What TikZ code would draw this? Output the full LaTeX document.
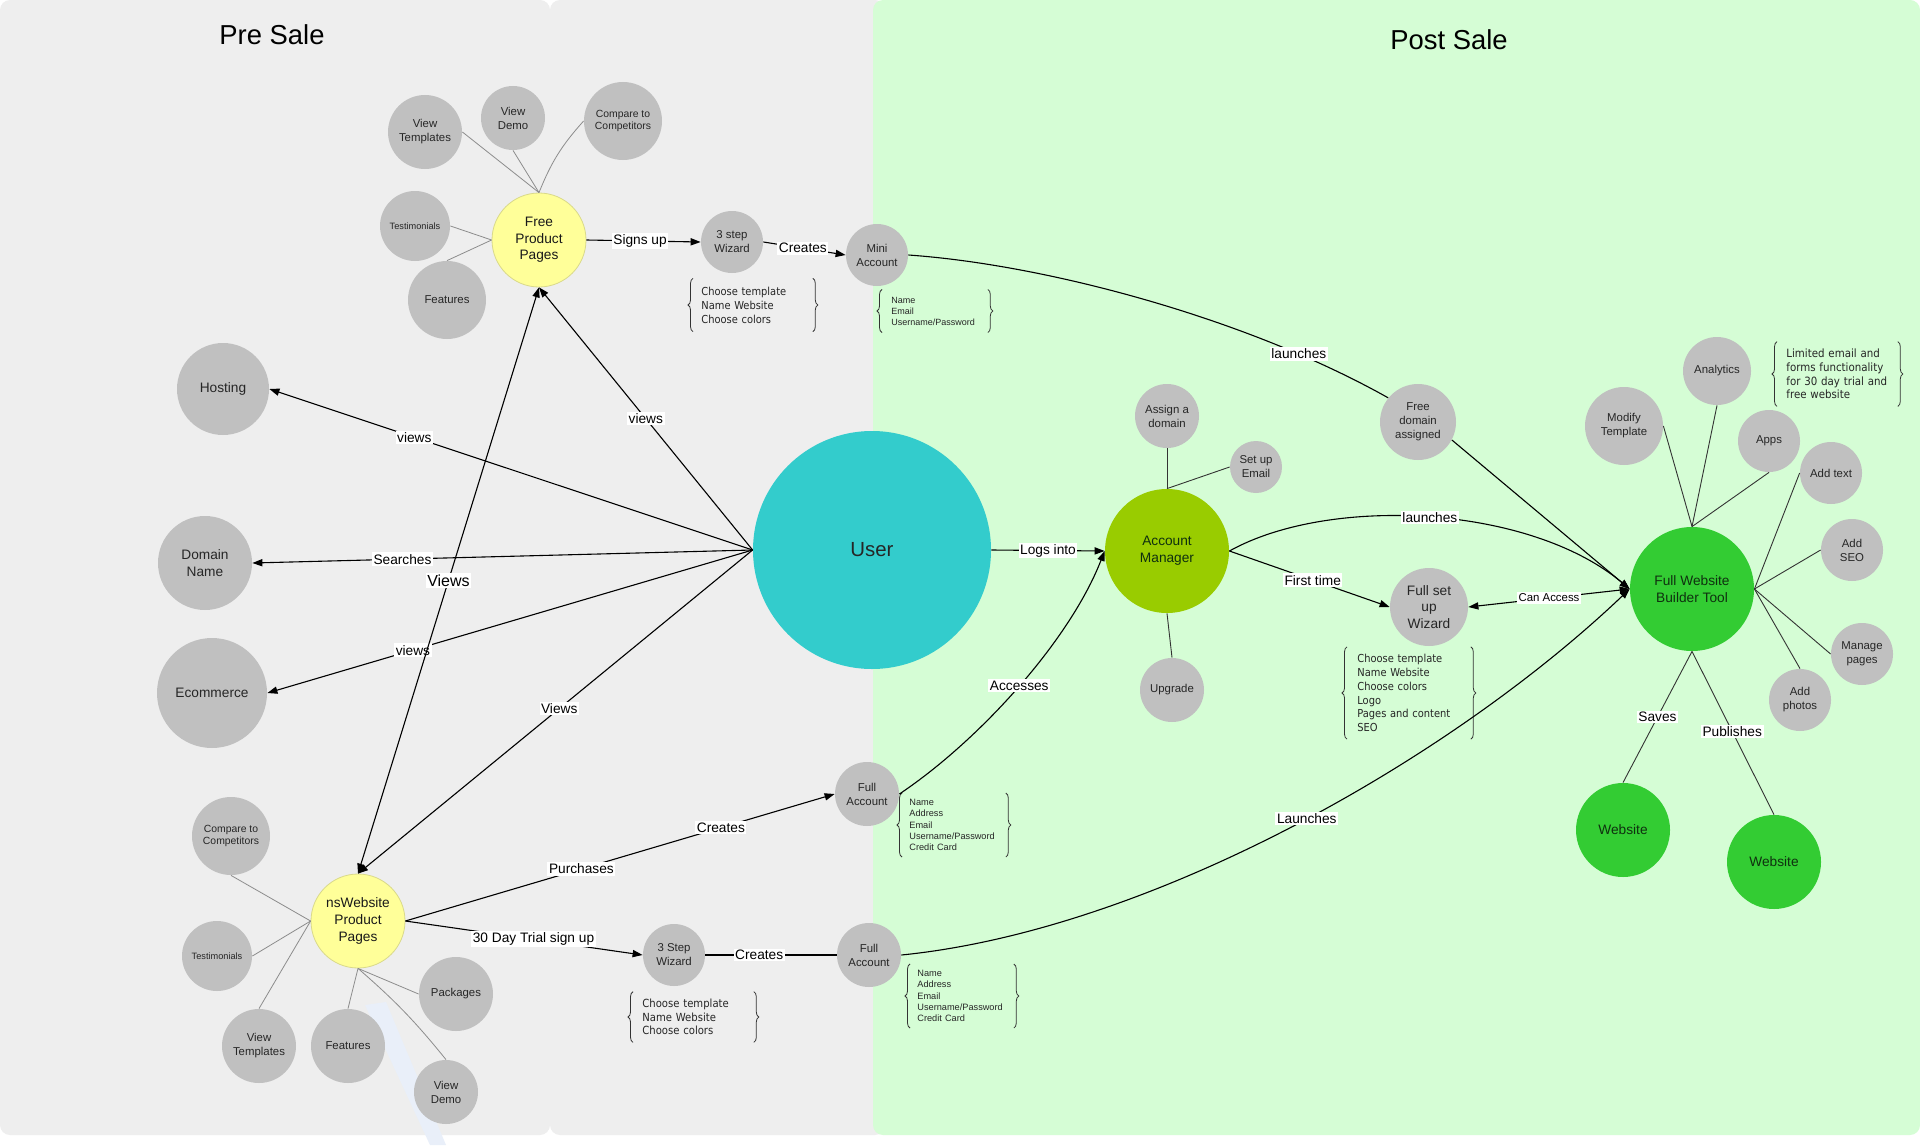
\documentclass[tikz,border=0pt]{standalone}
\usepackage{fontspec}
\setmainfont{Liberation Sans}
\newfontfamily\notefont{DejaVu Sans Condensed}
\usetikzlibrary{arrows.meta, decorations.pathreplacing}

\definecolor{panelgray}{HTML}{EEEEEE}
\definecolor{panelgreen}{HTML}{D5FDD5}
\definecolor{bubble}{HTML}{C0C0C0}
\definecolor{hubyellow}{HTML}{FFFF99}
\definecolor{hubline}{HTML}{D9D98A}
\definecolor{usercyan}{HTML}{33CCCC}
\definecolor{amgreen}{HTML}{99CC00}
\definecolor{webgreen}{HTML}{33CC33}
\definecolor{greentext}{HTML}{0F300F}
\definecolor{streak}{HTML}{E9EFF9}

\tikzset{
  bub/.style={circle, fill=bubble, inner sep=0pt, align=center, text=black!85, font=\fontsize{5.7}{7}\selectfont},
  hub/.style={circle, fill=hubyellow, draw=hubline, line width=0.4pt, inner sep=0pt, align=center, text=black!90, font=\fontsize{6.85}{8.3}\selectfont},
  lime/.style={circle, fill=amgreen, inner sep=0pt, align=center, text=greentext, font=\fontsize{6.85}{8.3}\selectfont},
  leaf/.style={circle, fill=webgreen, inner sep=0pt, align=center, text=greentext, font=\fontsize{6.85}{8.3}\selectfont},
  bigtxt/.style={font=\fontsize{6.85}{8.3}\selectfont},
  tinytxt/.style={font=\fontsize{5.2}{6.2}\selectfont},
  lbl/.style={fill=white, inner sep=0.8pt, text=black, font=\fontsize{6.85}{8.3}\selectfont},
  link/.style={draw=black, line width=0.55pt},
  spoke/.style={draw=black!45, line width=0.4pt},
  darkspoke/.style={draw=black!80, line width=0.45pt},
  note/.style={anchor=west, inner xsep=0pt, inner ysep=3pt, align=left, text=black!85},
  curly/.style={decorate, decoration={brace, amplitude=2.5pt}, draw=black!80, line width=0.4pt}
}

\begin{document}
\begin{tikzpicture}[x=0.5pt, y=-0.5pt, >={Triangle[length=5pt, width=3.6pt]}]
\useasboundingbox (0,0) rectangle (1920,1145);

% panels
\fill[white] (0,0) rectangle (1920,1145);
\fill[panelgray, rounded corners=5pt] (0,0) rectangle (550,1135);
\fill[panelgray, rounded corners=5pt] (550,0) rectangle (885,1135);
\fill[panelgreen, rounded corners=5pt] (873,0) rectangle (1920,1135);
\fill[streak] (365,1005) -- (386,1002) -- (446,1145) -- (430,1145) -- cycle;

\node[font=\fontsize{13.7}{16}\selectfont] (pre) at (272,35) {Pre Sale};
\node[font=\fontsize{13.7}{16}\selectfont] (post) at (1449,40) {Post Sale};

% pre sale
\node[hub, minimum size=47pt] (fpp) at (539,240) {Free\\Product\\Pages};
\node[bub, minimum size=37pt] (vt1) at (425,132) {View\\Templates};
\node[bub, minimum size=32pt] (vd1) at (513,118) {View\\Demo};
\node[bub, tinytxt, minimum size=39pt] (cmp1) at (623,121) {Compare to\\Competitors};
\node[bub, minimum size=35pt, font=\fontsize{4.6}{5.5}\selectfont] (tst1) at (415,226) {Testimonials};
\node[bub, minimum size=39pt] (ft1) at (447,300) {Features};

\node[bub, bigtxt, minimum size=46pt] (host) at (223,389) {Hosting};
\node[bub, bigtxt, minimum size=47pt] (dom) at (205,563) {Domain\\Name};
\node[bub, bigtxt, minimum size=55pt] (ecom) at (212,693) {Ecommerce};

\node[circle, fill=usercyan, inner sep=0pt, minimum size=119pt, text=black!85, font=\fontsize{10.2}{12}\selectfont] (user) at (872,550) {User};

\node[hub, minimum size=47pt] (nsw) at (358,921) {nsWebsite\\Product\\Pages};
\node[bub, tinytxt, minimum size=39pt] (cmp2) at (231,836) {Compare to\\Competitors};
\node[bub, minimum size=35pt, font=\fontsize{4.6}{5.5}\selectfont] (tst2) at (217,956) {Testimonials};
\node[bub, minimum size=37pt] (vt2) at (259,1046) {View\\Templates};
\node[bub, minimum size=37pt] (ft2) at (348,1046) {Features};
\node[bub, minimum size=37pt] (pkg) at (456,994) {Packages};
\node[bub, minimum size=32pt] (vd2) at (446,1092) {View\\Demo};

\node[bub, minimum size=31pt] (wiz) at (732,242) {3 step\\Wizard};
\node[bub, minimum size=31pt] (wiz2) at (674,955) {3 Step\\Wizard};

% post sale
\node[bub, minimum size=31pt] (mini) at (877,255) {Mini\\Account};
\node[bub, minimum size=32pt] (fa1) at (867,794) {Full\\Account};
\node[bub, minimum size=32pt] (fa2) at (869,955) {Full\\Account};

\node[lime, minimum size=62pt] (am) at (1167,551) {Account\\Manager};
\node[bub, minimum size=32pt] (asg) at (1167,416) {Assign a\\domain};
\node[bub, minimum size=26pt] (email) at (1256,467) {Set up\\Email};
\node[bub, minimum size=32pt] (upg) at (1172,690) {Upgrade};
\node[bub, minimum size=38pt] (fdom) at (1418,422) {Free\\domain\\assigned};
\node[bub, bigtxt, minimum size=39pt] (fsw) at (1429,607) {Full set\\up\\Wizard};

\node[leaf, minimum size=62pt] (bld) at (1692,589) {Full Website\\Builder Tool};
\node[bub, minimum size=39pt] (modt) at (1624,426) {Modify\\Template};
\node[bub, minimum size=34pt] (anl) at (1717,371) {Analytics};
\node[bub, minimum size=31pt] (apps) at (1769,441) {Apps};
\node[bub, minimum size=31pt] (addt) at (1831,473) {Add text};
\node[bub, minimum size=31pt] (seo) at (1852,550) {Add\\SEO};
\node[bub, minimum size=31pt] (mng) at (1862,654) {Manage\\pages};
\node[bub, minimum size=31pt] (pho) at (1800,700) {Add\\photos};
\node[leaf, minimum size=47pt] (web1) at (1623,830) {Website};
\node[leaf, minimum size=47pt] (web2) at (1774,862) {Website};

% notes
\node[note, font=\notefont\fontsize{5.5}{7}\selectfont, text width=52.5pt, inner ysep=4pt] (wizinfo) at (701,305) {Choose template\\Name Website\\Choose colors};
\node[note, font=\fontsize{4.5}{5.5}\selectfont, text width=45pt, inner ysep=3.5pt] (miniinfo) at (891,311) {Name\\Email\\Username/Password};
\node[note, font=\fontsize{4.6}{5.6}\selectfont, text width=45pt, inner ysep=3pt] (fa1info) at (909,825) {Name\\Address\\Email\\Username/Password\\Credit Card};
\node[note, font=\fontsize{4.6}{5.6}\selectfont, text width=45pt, inner ysep=3pt] (fa2info) at (917,996) {Name\\Address\\Email\\Username/Password\\Credit Card};
\node[note, font=\notefont\fontsize{5.6}{6.8}\selectfont, text width=52.5pt, inner ysep=3.5pt] (wiz2info) at (642,1017) {Choose template\\Name Website\\Choose colors};
\node[note, font=\notefont\fontsize{5.5}{6.9}\selectfont, text width=53.5pt, inner ysep=3.5pt] (fswinfo) at (1357,693) {Choose template\\Name Website\\Choose colors\\Logo\\Pages and content\\SEO};
\node[note, font=\notefont\fontsize{5.7}{6.85}\selectfont, text width=52.5pt, inner ysep=3.5pt] (liminfo) at (1786,374) {Limited email and\\forms functionality\\for 30 day trial and\\free website};

\draw[curly] ([xshift=-4pt]wizinfo.south west) -- ([xshift=-4pt]wizinfo.north west);
\draw[curly] ([xshift=3pt]wizinfo.north east) -- ([xshift=3pt]wizinfo.south east);
\draw[curly] ([xshift=-4.5pt]miniinfo.south west) -- ([xshift=-4.5pt]miniinfo.north west);
\draw[curly] ([xshift=3pt]miniinfo.north east) -- ([xshift=3pt]miniinfo.south east);
\draw[curly] ([xshift=-3.5pt]fa1info.south west) -- ([xshift=-3.5pt]fa1info.north west);
\draw[curly] ([xshift=3pt]fa1info.north east) -- ([xshift=3pt]fa1info.south east);
\draw[curly] ([xshift=-3.5pt]fa2info.south west) -- ([xshift=-3.5pt]fa2info.north west);
\draw[curly] ([xshift=3pt]fa2info.north east) -- ([xshift=3pt]fa2info.south east);
\draw[curly] ([xshift=-4.5pt]wiz2info.south west) -- ([xshift=-4.5pt]wiz2info.north west);
\draw[curly] ([xshift=3pt]wiz2info.north east) -- ([xshift=3pt]wiz2info.south east);
\draw[curly] ([xshift=-5pt]fswinfo.south west) -- ([xshift=-5pt]fswinfo.north west);
\draw[curly] ([xshift=3pt]fswinfo.north east) -- ([xshift=3pt]fswinfo.south east);
\draw[curly] ([xshift=-4.5pt]liminfo.south west) -- ([xshift=-4.5pt]liminfo.north west);
\draw[curly] ([xshift=3pt]liminfo.north east) -- ([xshift=3pt]liminfo.south east);

% spokes
\draw[spoke]
(fpp.north) edge (vt1.east)
(fpp.north) edge (vd1.south)
(fpp.north) edge[bend left=10] (cmp1.west)
(fpp.west) edge (tst1.east)
(fpp.west) edge (ft1.north)
(nsw.west) edge (cmp2.south)
(nsw.west) edge (tst2.east)
(nsw.west) edge (vt2.north)
(nsw.south) edge (ft2.north)
(nsw.south) edge (pkg.west)
(nsw.south) edge[bend left=5] (vd2.north);

\draw[darkspoke]
(am.north) edge (asg.south)
(am.north) edge (email.west)
(am.south) edge (upg.north)
(bld.north) edge (modt.east)
(bld.north) edge (anl.south)
(bld.north) edge (apps.south)
(bld.east) edge (addt.west)
(bld.east) edge (seo.west)
(bld.east) edge (mng.west)
(bld.east) edge (pho.north)
(bld.south) edge node[lbl, pos=0.5] {Saves} (web1.north)
(bld.south) edge node[lbl, pos=0.49] {Publishes} (web2.north);

% user links
\draw[link]
(user.west) edge[->] node[lbl, pos=0.7] {views} (host.east)
(user.west) edge[->] node[lbl, pos=0.7] {Searches} (dom.east)
(user.west) edge[->] node[lbl, pos=0.7] {views} (ecom.east)
(user.west) edge[->] node[lbl, pos=0.5] {views} (fpp.south)
(user.west) edge[->] node[lbl, pos=0.49] {Views} (nsw.north)
(nsw.north) edge[<->] node[lbl, pos=0.5, font=\fontsize{8}{9.6}\selectfont] {Views} (fpp.south)
(fpp.east) edge[->] node[lbl, pos=0.47] {Signs up} (wiz.west)
(wiz.east) edge[->] node[lbl, pos=0.48] {Creates} (mini.west)
(nsw.east) edge[->] node[lbl, pos=0.41] {Purchases} node[lbl, pos=0.735] {Creates} (fa1.west)
(nsw.east) edge[->] node[lbl, pos=0.54] {30 Day Trial sign up} (wiz2.west)
(wiz2.east) edge node[lbl, pos=0.41] {Creates} (fa2.west)
(user.east) edge[->] node[lbl, pos=0.5] {Logs into} (am.west)
(am.east) edge[->] node[lbl, pos=0.52] {First time} (fsw.west)
(bld.west) edge[<->] node[lbl, pos=0.5, font=\fontsize{5.7}{7}\selectfont] {Can Access} (fsw.east)
(fdom.-28) edge[->] (bld.west);

\draw[link] (mini.east) .. controls (1050,265) and (1250,320) .. node[lbl, pos=0.8] {launches} (fdom.141);
\draw[link, ->] (fa1.east) .. controls (980,740) and (1070,640) .. node[lbl, pos=0.5] {Accesses} (am.west);
\draw[link, ->] (am.east) .. controls (1330,495) and (1530,505) .. node[lbl, pos=0.5] {launches} (bld.west);
\draw[link, ->] (fa2.east) .. controls (1150,930) and (1450,760) .. node[lbl, pos=0.52] {Launches} (bld.west);
\end{tikzpicture}
\end{document}
